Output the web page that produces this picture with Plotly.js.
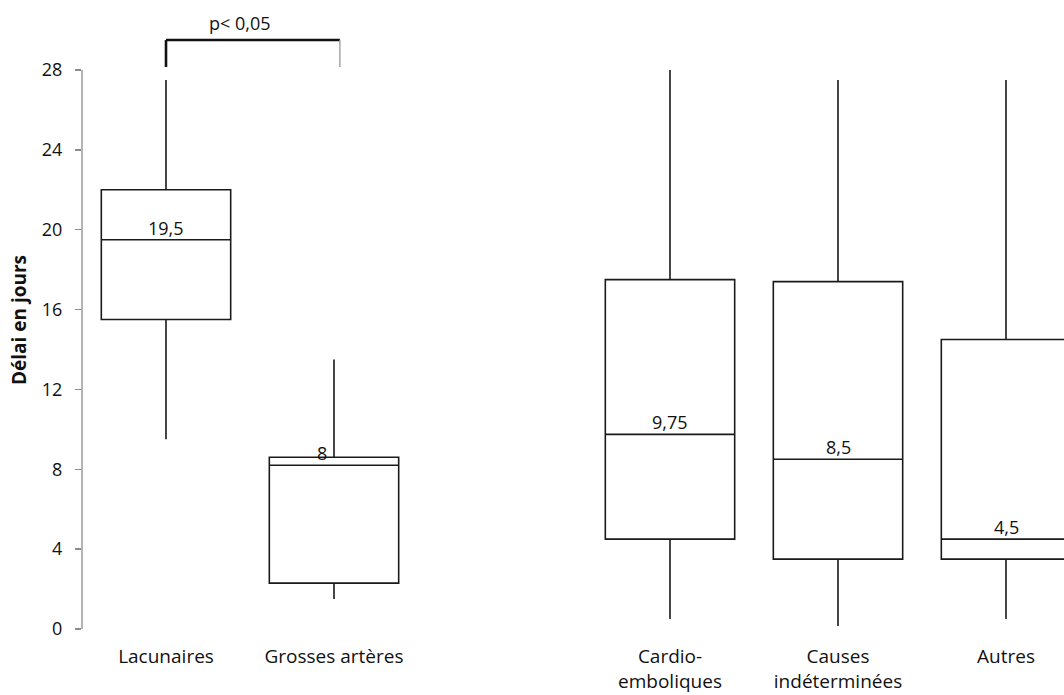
<!DOCTYPE html>
<html><head><meta charset="utf-8">
<script src="https://cdn.plot.ly/plotly-3.0.1.min.js"></script>
<style>html,body{margin:0;padding:0;background:#fff}</style>
</head><body><div id="chart" style="width:1064px;height:695px"></div>
<script>
const categories = ['Lacunaires', 'Grosses artères', 'Cardio-<br>emboliques', 'Causes<br>indéterminées', 'Autres'];
const lowerWhisker = [9.5, 1.5, 0.5, 0.15, 0.5];
const q1Values = [15.5, 2.3, 4.5, 3.5, 3.5];
const medians = [19.5, 8.2, 9.75, 8.5, 4.5];
const q3Values = [22, 8.6, 17.5, 17.4, 14.5];
const upperWhisker = [27.5, 13.5, 28, 27.5, 27.5];
const medianLabels = ['19,5', '8', '9,75', '8,5', '4,5'];
const yTicks = [0, 4, 8, 12, 16, 20, 24, 28];
const pLabel = 'p< 0,05';

// positions: two groups separated by an empty slot
const xs = categories.map((c, i) => i < 2 ? i : i + 1);

const FONT = 'Open Sans, sans-serif';
const pxPerY = 559 / 28;
const yMin = -(640 - 629) / pxPerY;
const yMax = 629 / pxPerY;
const xMin = -0.5;
const xMax = xMin + 982 / 168;

const trace = {
  type: 'box',
  x: xs,
  q1: q1Values,
  median: medians,
  q3: q3Values,
  lowerfence: lowerWhisker,
  upperfence: upperWhisker,
  boxpoints: false,
  whiskerwidth: 0,
  width: 0.77,
  fillcolor: '#ffffff',
  line: {color: '#1a1a1a', width: 1.6},
  hoverinfo: 'skip',
  showlegend: false
};

const annotations = medians.map((m, i) => ({
  x: xs[i], y: m, xref: 'x', yref: 'y',
  text: medianLabels[i], showarrow: false,
  xanchor: 'center', yanchor: 'bottom', yshift: -2,
  xshift: (i === 1 ? -12 : 0),
  font: {family: FONT, size: 18, color: '#111'}
}));
annotations.push({
  x: (xs[0] + xs[1]) / 2 - 0.06, y: 29.5, xref: 'x', yref: 'y',
  text: pLabel, showarrow: false, xanchor: 'center', yanchor: 'bottom', yshift: 3,
  font: {family: FONT, size: 18, color: '#111'}
});

const shapes = [
  {type: 'line', xref: 'paper', yref: 'y', x0: 0, x1: 0, y0: 0, y1: 28,
   line: {color: '#8c8c8c', width: 1.3}},
  {type: 'line', xref: 'x', yref: 'y', x0: xs[0], x1: xs[0], y0: 28.15, y1: 29.5,
   line: {color: '#111', width: 2.6}},
  {type: 'line', xref: 'x', yref: 'y', x0: xs[0], x1: xs[1] + 0.035, y0: 29.5, y1: 29.5,
   line: {color: '#111', width: 2.6}},
  {type: 'line', xref: 'x', yref: 'y', x0: xs[1] + 0.035, x1: xs[1] + 0.035, y0: 28.15, y1: 29.5,
   line: {color: '#999', width: 1.3}}
];

const layout = {
  width: 1064, height: 695,
  margin: {l: 82, r: 0, t: 0, b: 55},
  paper_bgcolor: '#fff', plot_bgcolor: '#fff',
  font: {family: FONT, size: 18, color: '#111'},
  xaxis: {
    range: [xMin, xMax], tickvals: xs, ticktext: categories,
    showgrid: false, zeroline: false, showline: false, ticks: '',
    ticklabelstandoff: 3,
    tickfont: {family: FONT, size: 19, color: '#111'}
  },
  yaxis: {
    range: [yMin, yMax], tickvals: yTicks, ticktext: yTicks.map(String),
    showgrid: false, zeroline: false, showline: false,
    ticks: 'outside', ticklen: 6, tickcolor: '#8c8c8c', tickwidth: 1.3,
    ticklabelstandoff: 9,
    tickfont: {family: FONT, size: 18, color: '#111'},
    title: {text: '<b>Délai en jours</b>', font: {family: FONT, size: 19, color: '#111'}, standoff: 10}
  },
  shapes: shapes,
  annotations: annotations
};

Plotly.newPlot('chart', [trace], layout, {displayModeBar: false, staticPlot: true});
</script></body></html>
